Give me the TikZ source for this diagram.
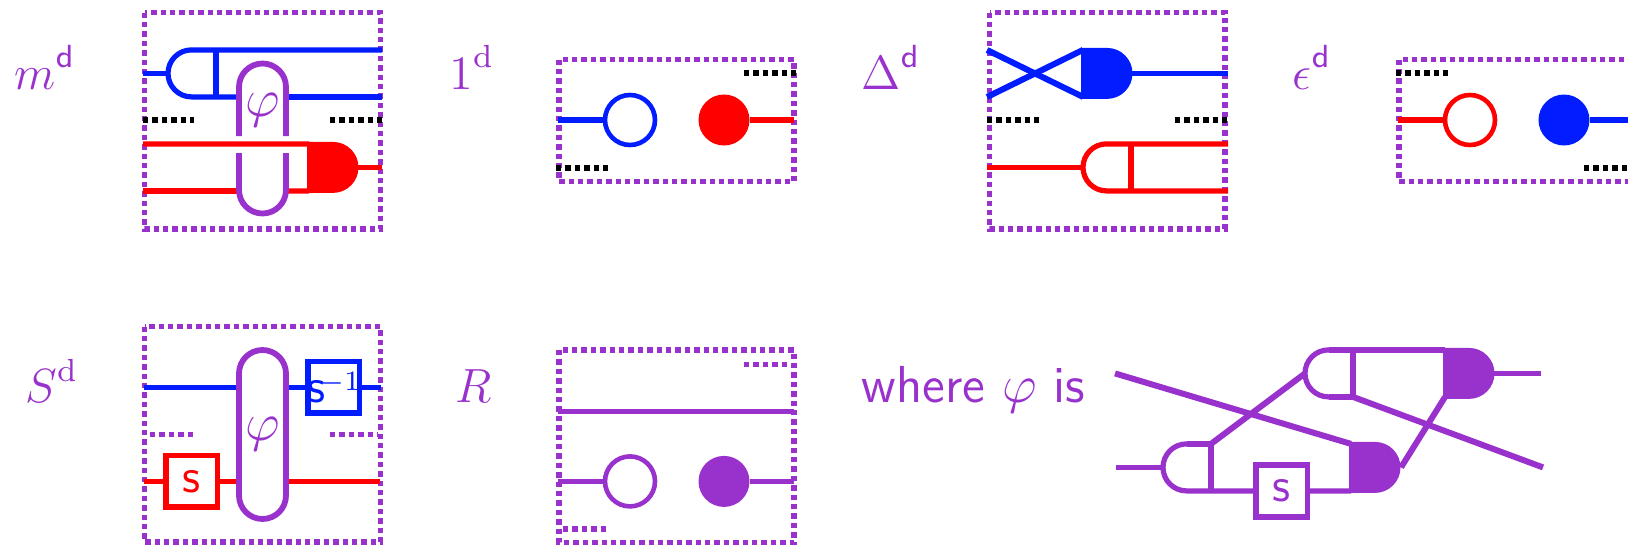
\documentclass[tikz,border=0pt]{standalone}
\usepackage{amsmath}
\definecolor{dpurple}{rgb}{0.6, 0.196, 0.8}
\definecolor{dblue}{rgb}{0, 0.11, 1}
\definecolor{dred}{rgb}{1, 0, 0}
\usetikzlibrary{calc}

\tikzset{
	dotbox/.style={color=dpurple,line width=1.45pt,dash pattern=on 1.35pt off 1pt},
	blackdots/.style={color=black,line width=1.4pt,dash pattern=on 1.35pt off 1pt},
	purpledots/.style={color=dpurple,line width=1.4pt,dash pattern=on 1.35pt off 1pt},
	wire/.style={line width=1.3pt},
	slantwire/.style={line width=1.5pt},
	capsule/.style={color=dpurple,line width=1.45pt},
	labeltext/.style={color=dpurple,font=\large,inner sep=0pt,anchor=base west},
	phitext/.style={color=dpurple,inner sep=0pt},
	unitopen/.style={circle,draw,line width=1.15pt,fill=white,minimum size=12.5pt,inner sep=0pt},
	unitfull/.style={circle,minimum size=12.75pt,inner sep=0pt},
	antipode/.style={rectangle,draw,line width=1.4pt,fill=white,minimum size=12.9pt,inner sep=0pt,font=\large},
}

\newcommand{\dsans}{\raisebox{1pt}{$\scriptstyle\mathsf{d}$}}
\newcommand{\dserif}{\raisebox{1pt}{$\scriptstyle\mathrm{d}$}}
\newcommand{\bigphi}{\scalebox{1.12}{\fontsize{12}{14}\selectfont$\varphi$}}
% open gate: name, colour, left point of the bow
\newcommand{\opengate}[3]{
	\coordinate (#1) at (#3);
	\coordinate (#1-up) at ($(#3)+(24,-23.5)$);
	\coordinate (#1-dn) at ($(#3)+(24,23.5)$);
	\draw [#2,wire] ($(#3)+(24,-23.5)$) -- ($(#3)+(23.5,-23.5)$) arc[start angle=270,end angle=90,radius=23.5] -- ($(#3)+(24,23.5)$);
	\draw [#2,wire] ($(#3)+(48,-23.5)$) -- ($(#3)+(48,23.5)$);
}
% filled gate: name, colour, middle of the flat side
\newcommand{\fullgate}[3]{
	\coordinate (#1-up) at ($(#3)+(2,-23.5)$);
	\coordinate (#1-dn) at ($(#3)+(2,23.5)$);
	\coordinate (#1-out) at ($(#3)+(51,0)$);
	\fill [#2] ($(#3)+(0,-25.5)$) -- ($(#3)+(26,-25.5)$) arc[start angle=-90,end angle=90,radius=25.5] -- ($(#3)+(0,25.5)$) -- cycle;
}

\begin{document}
\begin{tikzpicture}[x=0.25pt,y=0.25pt,yscale=-1,xscale=1]
	\useasboundingbox (0,0) rectangle (1628,546);

	% Panel m
	\draw [dotbox] (144.5,12.5) rectangle (380.5,229);
	\draw [blackdots] (143,120) -- (194,120);
	\draw [blackdots] (330,120) -- (382,120);
	\opengate{mcomul}{dblue}{168,73.4}
	\fullgate{mmul}{dred}{307,167.4}
	\coordinate (mb0) at (143,73.4);
	\coordinate (mb1) at (382,50);
	\coordinate (mb2) at (239,97);
	\coordinate (mb3) at (286,97);
	\coordinate (mb4) at (382,97);
	\coordinate (mr0) at (143,144);
	\coordinate (mr1) at (143,191);
	\coordinate (mr2) at (239,191);
	\coordinate (mr3) at (286,191);
	\coordinate (mr4) at (382,167.4);
	\draw [dblue,wire] (mb0) -- (mcomul);
	\draw [dblue,wire] (mcomul-up) -- (mb1);
	\draw [dblue,wire] (mcomul-dn) -- (mb2);
	\draw [dblue,wire] (mb3) -- (mb4);
	\draw [dred,wire] (mr0) -- (mmul-up);
	\draw [dred,wire] (mr1) -- (mr2);
	\draw [dred,wire] (mr3) -- (mmul-dn);
	\draw [dred,wire] (mmul-out) -- (mr4);
	\draw [capsule] (239,136) -- (239,87) arc[start angle=180,end angle=360,radius=23.5] -- (286,136);
	\draw [capsule] (239,153) -- (239,190) arc[start angle=180,end angle=0,radius=23.5] -- (286,153);
	\node (mphi) [phitext] at (262.5,110) {\bigphi};
	\node (mlabel) [labeltext] at (14,89) {$m^{\dsans}$};

	% Panel unit
	\draw [dotbox] (559,59.5) rectangle (794,181.5);
	\draw [blackdots] (744,73) -- (797,73);
	\draw [blackdots] (556,167.7) -- (609,167.7);
	\node (uopen) [unitopen,draw=dblue] at (630,120) {};
	\node (ufull) [unitfull,fill=dred] at (724,120) {};
	\coordinate (ub0) at (558,120);
	\coordinate (ur0) at (794,120);
	\draw [dblue,wire] (ub0) -- (uopen);
	\draw [dred,wire] (ufull) -- (ur0);
	\node (ulabel) [labeltext] at (449,89) {$1^{\dserif}$};

	% Panel coproduct
	\draw [dotbox] (989.5,12.5) rectangle (1225,229);
	\draw [blackdots] (987,120) -- (1040,120);
	\draw [blackdots] (1175,120) -- (1228,120);
	\fullgate{cmul}{dblue}{1081,73.4}
	\opengate{ccomul}{dred}{1083,167.4}
	\coordinate (cb0) at (987,50);
	\coordinate (cb1) at (987,97);
	\coordinate (cb2) at (1228,73.4);
	\coordinate (cr0) at (987,167.4);
	\coordinate (cr1) at (1228,144);
	\coordinate (cr2) at (1228,191);
	\draw [dblue,slantwire] (cb0) -- (cmul-dn);
	\draw [dblue,slantwire] (cb1) -- (cmul-up);
	\draw [dblue,wire] (cmul-out) -- (cb2);
	\draw [dred,wire] (cr0) -- (ccomul);
	\draw [dred,wire] (ccomul-up) -- (cr1);
	\draw [dred,wire] (ccomul-dn) -- (cr2);
	\node (clabel) [labeltext] at (861,89) {$\Delta^{\dsans}$};

	% Panel counit
	\draw [dotbox] (1399,59.5) rectangle (1634,181.5);
	\draw [blackdots] (1396,73) -- (1449,73);
	\draw [blackdots] (1584,167.7) -- (1637,167.7);
	\node (eopen) [unitopen,draw=dred] at (1470,120) {};
	\node (efull) [unitfull,fill=dblue] at (1564,120) {};
	\coordinate (er0) at (1398,120);
	\coordinate (eb0) at (1634,120);
	\draw [dred,wire] (er0) -- (eopen);
	\draw [dblue,wire] (efull) -- (eb0);
	\node (elabel) [labeltext] at (1292,89) {$\epsilon^{\dsans}$};

	% Panel antipode
	\draw [dotbox] (144.5,326.5) rectangle (380.5,542);
	\draw [purpledots] (150,434.3) -- (194,434.3);
	\draw [purpledots] (330,434.3) -- (378,434.3);
	\coordinate (sb0) at (144,387.4);
	\coordinate (sb1) at (239,387.4);
	\coordinate (sb2) at (286,387.4);
	\coordinate (sb3) at (381,387.4);
	\coordinate (sr0) at (144,481.4);
	\coordinate (sr1) at (239,481.4);
	\coordinate (sr2) at (286,481.4);
	\coordinate (sr3) at (380,481.4);
	\node (sbox) [antipode,draw=dred,text=dred] at (191.5,481.4) {$\mathsf{s}$};
	\node (sinv) [antipode,draw=dblue,text=dblue] at (333.5,387.4) {\makebox[0pt]{$\mathsf{s}$\kern-1.5pt\raisebox{2.9pt}{\fontsize{7}{8}\selectfont$-1$}}};
	\draw [dblue,wire] (sb0) -- (sb1);
	\draw [dblue,wire] (sb2) -- (sinv);
	\draw [dblue,wire] (sinv) -- (sb3);
	\draw [dred,wire] (sr0) -- (sbox);
	\draw [dred,wire] (sbox) -- (sr1);
	\draw [dred,wire] (sr2) -- (sr3);
	\draw [capsule] (239,495.5) -- (239,373.5) arc[start angle=180,end angle=360,radius=23.5] -- (286,495.5) arc[start angle=0,end angle=180,radius=23.5];
	\node (sphi) [phitext] at (262.5,434) {\bigphi};
	\node (slabel) [labeltext] at (25,402.7) {$S^{\dserif}$};

	% Panel R
	\draw [dotbox] (559,350) rectangle (794,542.5);
	\draw [purpledots] (744,364.3) -- (790,364.3);
	\draw [purpledots] (563,529) -- (609,529);
	\node (ropen) [unitopen,draw=dpurple] at (630,481.4) {};
	\node (rfull) [unitfull,fill=dpurple] at (724,481.4) {};
	\coordinate (rt0) at (558,411.3);
	\coordinate (rt1) at (794,411.3);
	\coordinate (rb0) at (558,481.4);
	\coordinate (rb1) at (794,481.4);
	\draw [dpurple,wire] (rt0) -- (rt1);
	\draw [dpurple,wire] (rb0) -- (ropen);
	\draw [dpurple,wire] (rfull) -- (rb1);
	\node (rlabel) [labeltext] at (455,402.7) {$R$};

	% Definition of phi
	\node (wlabel) [labeltext,font=\fontsize{13}{15}\selectfont\sffamily] at (861,402) {where \bigphi{} is};
	\opengate{pcomula}{dpurple}{1163,467.4}
	\opengate{pcomulb}{dpurple}{1305,373.4}
	\fullgate{pmula}{dpurple}{1349,467.4}
	\fullgate{pmulb}{dpurple}{1443,373.4}
	\coordinate (p0) at (1116,467.4);
	\coordinate (p1) at (1115,373.4);
	\coordinate (p2) at (1543,467.4);
	\coordinate (p3) at (1541,373.4);
	\coordinate (pa) at (1211,443.9);
	\coordinate (pb) at (1353,396.9);
	\coordinate (pc) at (1401,467.4);
	\coordinate (pd) at (1445,397);
	\node (pbox) [antipode,draw=dpurple,text=dpurple] at (1281.5,491) {$\mathsf{s}$};
	\draw [dpurple,wire] (p0) -- (pcomula);
	\draw [dpurple,wire] (pcomula-up) -- (pa);
	\draw [dpurple,slantwire] (pa) -- (pcomulb);
	\draw [dpurple,slantwire] (p1) -- (pmula-up);
	\draw [dpurple,wire] (pcomula-dn) -- (pbox);
	\draw [dpurple,wire] (pbox) -- (pmula-dn);
	\draw [dpurple,wire] (pcomulb-up) -- (pmulb-up);
	\draw [dpurple,wire] (pcomulb-dn) -- (pb);
	\draw [dpurple,slantwire] (pb) -- (p2);
	\draw [dpurple,slantwire] (pc) -- (pd);
	\draw [dpurple,wire] (pmulb-out) -- (p3);
\end{tikzpicture}
\end{document}
